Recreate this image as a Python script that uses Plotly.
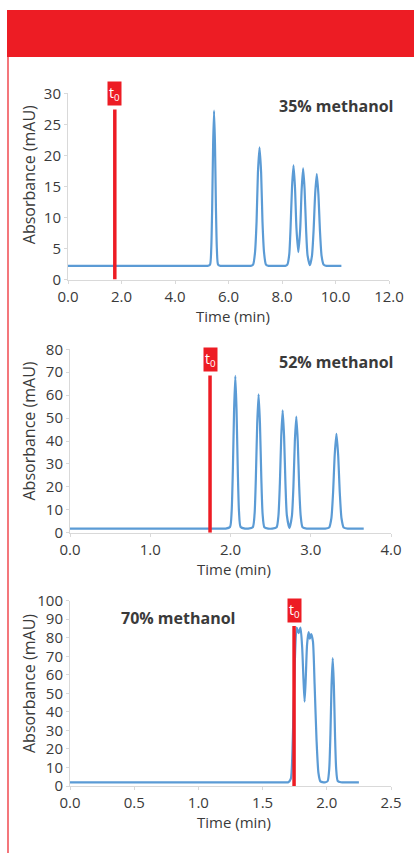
import plotly.graph_objects as go

# ---------------- data ----------------
# Panel 1: 35% methanol
p1_time = [0.0, 5.15, 5.22, 5.31, 5.355, 5.39, 5.425, 5.46, 5.495, 5.53, 5.565, 5.61, 5.70, 5.77,
           6.75, 6.83, 6.92, 6.99, 7.05, 7.10, 7.16, 7.22, 7.27, 7.33, 7.40, 7.50, 7.57,
           8.05, 8.12, 8.20, 8.27, 8.32, 8.375, 8.43, 8.485, 8.54, 8.61,
           8.68, 8.735, 8.79, 8.845, 8.90, 8.955, 9.045,
           9.12, 9.18, 9.24, 9.30, 9.36, 9.42, 9.48, 9.555, 9.66, 9.73, 10.22]
p1_abs = [2.2, 2.2, 2.2, 2.4, 5.0, 11.6, 21.8, 27.2, 21.8, 11.6, 5.0, 2.4, 2.2, 2.2,
          2.2, 2.2, 2.4, 4.3, 9.4, 17.2, 21.3, 17.2, 9.4, 4.3, 2.4, 2.2, 2.2,
          2.2, 2.2, 2.4, 4.0, 8.3, 14.9, 18.4, 14.9, 8.3, 4.4,
          8.1, 14.5, 17.9, 14.5, 8.1, 3.9, 2.3,
          3.8, 7.8, 13.8, 17.0, 13.8, 7.8, 3.8, 2.4, 2.2, 2.2, 2.2]
p1_t0 = 1.75
p1_t0_top = 27.4

# Panel 2: 52% methanol
p2_time = [0.0, 1.88, 1.94, 1.994, 2.014, 2.029, 2.045, 2.06, 2.075, 2.091, 2.106, 2.126,
           2.18, 2.22, 2.278, 2.30, 2.316, 2.333, 2.35, 2.367, 2.384, 2.40, 2.422,
           2.47, 2.52, 2.575, 2.5975, 2.615, 2.6325, 2.65, 2.6675, 2.685, 2.7025, 2.735,
           2.765, 2.784, 2.802, 2.82, 2.838, 2.856, 2.875, 2.898, 2.95, 3.00,
           3.13, 3.18, 3.23, 3.257, 3.278, 3.299, 3.32, 3.341, 3.362, 3.383, 3.41,
           3.46, 3.51, 3.66]
p2_abs = [1.8, 1.8, 1.8, 2.5, 9.1, 26.8, 53.9, 68.4, 53.9, 26.8, 9.1, 2.5,
          1.8, 1.8, 2.4, 8.2, 23.8, 47.7, 60.4, 47.7, 23.8, 8.2, 2.4,
          1.8, 1.8, 2.4, 7.5, 21.2, 42.2, 53.4, 42.2, 21.2, 7.5, 2.0,
          7.2, 20.1, 40.0, 50.6, 40.0, 20.1, 7.2, 2.4, 1.8, 1.8,
          1.8, 1.8, 2.3, 6.3, 17.3, 34.1, 43.1, 34.1, 17.3, 6.3, 2.3,
          1.8, 1.8, 1.8]
p2_t0 = 1.745
p2_t0_top = 68.6

# Panel 3: 70% methanol
p3_time = [0.0, 1.62, 1.68, 1.70, 1.72, 1.735, 1.75, 1.765, 1.78, 1.795, 1.808, 1.818, 1.827,
           1.836, 1.846, 1.858, 1.868, 1.878, 1.892, 1.905, 1.92, 1.935, 1.95, 1.975, 1.99,
           2.007, 2.019, 2.028, 2.037, 2.046, 2.055, 2.064, 2.073, 2.085, 2.11, 2.14, 2.25]
p3_abs = [2.0, 2.0, 2.0, 2.0, 4.0, 25.0, 65.0, 85.5, 82.5, 85.5, 75.0, 58.0, 45.5,
          58.0, 76.0, 83.0, 79.5, 82.0, 78.0, 55.0, 25.0, 7.0, 2.5, 2.0, 2.0,
          2.7, 9.3, 27.4, 54.5, 69.0, 54.5, 27.4, 9.3, 2.7, 2.0, 2.0, 2.0]
p3_t0 = 1.745
p3_t0_top = 86.3

labels = ["35% methanol", "52% methanol", "70% methanol"]
x_ranges = [[0, 12], [0, 4], [0, 2.5]]
x_dticks = [2.0, 1.0, 0.5]
y_ranges = [[0, 30], [0, 80], [0, 100]]
y_dticks = [5, 10, 10]
x_title = "Time (min)"
y_title = "Absorbance (mAU)"

# ---------------- styling ----------------
W, H = 414, 853
BLUE = "#5B9BD5"
RED = "#ED1C24"
GRID = "#D9D9D9"
TXT = "#3a3a3a"
FONT = "Open Sans"
FS_TICK = 15
FS_XT = 15
FS_YT = 16
FS_LAB = 16

def px(v):  # horizontal pixel -> paper
    return v / W

def py(v):  # vertical pixel -> paper
    return 1 - v / H

fig = go.Figure()

panels = [
    (p1_time, p1_abs, p1_t0, p1_t0_top),
    (p2_time, p2_abs, p2_t0, p2_t0_top),
    (p3_time, p3_abs, p3_t0, p3_t0_top),
]
# plot-area pixel boxes: (x0, x1, ytop, ybottom)
boxes = [(68, 389, 93.3, 279.5), (70, 391, 349.3, 532.7), (70, 391, 600.7, 786.0)]
ytitle_c = [174.7, 431.0, 683.5]
xtitle_c = [316.0, 569.0, 822.0]
lab_pos = [(395, 106, "right"), (395, 362.3, "right"), (119, 618.3, "left")]

for i, (t, a, t0, t0top) in enumerate(panels):
    sfx = "" if i == 0 else str(i + 1)
    xa, ya = "x" + sfx, "y" + sfx
    fig.add_trace(go.Scatter(x=t, y=a, mode="lines", xaxis=xa, yaxis=ya,
                             line=dict(color=BLUE, width=2.2, shape="spline", smoothing=0.6),
                             showlegend=False, hoverinfo="skip"))
    fig.add_trace(go.Scatter(x=[t0, t0], y=[0, t0top], mode="lines", xaxis=xa, yaxis=ya,
                             line=dict(color=RED, width=3.5), showlegend=False,
                             hoverinfo="skip"))
    x0, x1, yt, yb = boxes[i]
    common = dict(showgrid=False, zeroline=False, showline=True, linecolor=GRID,
                  linewidth=1, ticks="outside", ticklen=3, tickcolor=GRID,
                  tickfont=dict(family=FONT, size=FS_TICK, color=TXT), fixedrange=True,
                  automargin=False)
    fig.layout["xaxis" + sfx] = dict(domain=[px(x0), px(x1)], range=x_ranges[i],
                                     dtick=x_dticks[i], tick0=0, tickformat=".1f",
                                     anchor=ya, **common)
    fig.layout["yaxis" + sfx] = dict(domain=[py(yb), py(yt)], range=y_ranges[i],
                                     dtick=y_dticks[i], tick0=0, anchor=xa, **common)
    # t0 label
    fig.add_annotation(x=t0, y=t0top, xref=xa, yref=ya, text="t<sub>0</sub>",
                       showarrow=False, xanchor="center", yanchor="bottom", yshift=3,
                       bgcolor=RED, borderpad=1,
                       font=dict(family=FONT, size=14, color="white"))
    # axis titles
    fig.add_annotation(x=px(28.5), y=py(ytitle_c[i]), xref="paper", yref="paper",
                       text=y_title, textangle=-90, showarrow=False,
                       xanchor="center", yanchor="middle",
                       font=dict(family=FONT, size=FS_YT, color=TXT))
    fig.add_annotation(x=px((x0 + x1) / 2 + 4), y=py(xtitle_c[i]), xref="paper",
                       yref="paper", text=x_title, showarrow=False,
                       xanchor="center", yanchor="middle",
                       font=dict(family=FONT, size=FS_XT, color=TXT))
    lx, ly, anc = lab_pos[i]
    fig.add_annotation(x=px(lx), y=py(ly), xref="paper", yref="paper",
                       text="<b>" + labels[i] + "</b>", showarrow=False, xanchor=anc,
                       yanchor="middle", font=dict(family=FONT, size=FS_LAB, color=TXT))

# header bar and left border line
fig.add_shape(type="rect", xref="paper", yref="paper", x0=px(7), x1=1, y0=py(57),
              y1=py(10), fillcolor=RED, line=dict(width=0), layer="below")
fig.add_shape(type="line", xref="paper", yref="paper", x0=px(8), x1=px(8), y0=0,
              y1=py(57), line=dict(color=RED, width=1.2), layer="below")

fig.update_layout(width=W, height=H, autosize=False, margin=dict(l=0, r=0, t=0, b=0),
                  paper_bgcolor="white", plot_bgcolor="white",
                  font=dict(family=FONT, size=FS_TICK, color=TXT))

post = ("document.body.style.margin='0px';document.body.style.padding='0px';"
        "document.body.style.overflow='hidden';"
        "document.documentElement.style.overflow='hidden';")
fig.write_html("out.html", config={"displayModeBar": False, "responsive": False},
               post_script=post)
